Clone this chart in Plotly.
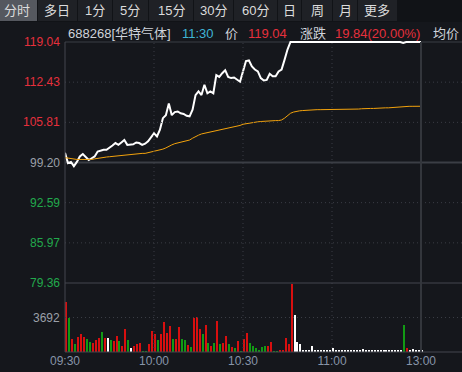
import plotly.graph_objects as go

W, H = 462, 372

# ---------------- data ----------------
minutes = list(range(121))  # 09:30 .. 11:30, one point per minute

price = [
    100.8, 99.1, 99.3, 98.6, 99.3, 100.2, 100.6, 100.1, 99.6, 99.9,
    100.2, 101.0, 101.2, 101.3, 101.3, 101.6, 102.0, 102.4, 102.1, 102.5,
    102.9, 102.1, 102.1, 102.2, 102.5, 102.4, 102.1, 102.3, 102.7, 103.3,
    104.0, 103.5, 104.6, 106.5, 107.0, 108.9, 107.0, 107.5, 107.6, 107.3,
    107.2, 106.9, 106.8, 107.9, 110.3, 110.9, 110.3, 112.0, 110.6, 110.9,
    110.6, 113.6, 113.3, 113.9, 114.4, 113.3, 113.1, 113.2, 112.8, 112.5,
    114.2, 115.9, 116.0, 115.0, 114.5, 114.2, 113.1, 112.7, 112.8, 113.8,
    113.4, 113.4, 114.2, 114.5, 116.1, 117.8, 119.04, 119.04, 119.04, 119.04,
    119.04, 119.04, 119.04, 119.04, 119.04, 119.04, 119.04, 119.04, 119.04, 119.04,
    119.04, 119.04, 119.04, 119.04, 119.04, 119.04, 119.04, 119.04, 119.04, 119.04,
    119.04, 119.04, 119.04, 119.04, 119.04, 119.04, 119.04, 119.04, 119.04, 119.04,
    119.04, 119.04, 119.04, 119.04, 118.9, 119.04, 119.04, 119.04, 119.04, 119.04,
    119.04,
]

avg_price = [
    100.0, 99.9, 99.8, 99.7, 99.7, 99.7, 99.7, 99.7, 99.6, 99.7,
    99.8, 99.9, 100.0, 100.0, 100.1, 100.15, 100.2, 100.3, 100.35, 100.4,
    100.5, 100.5, 100.55, 100.6, 100.6, 100.65, 100.7, 100.7, 100.8, 100.9,
    101.0, 101.1, 101.2, 101.4, 101.6, 101.9, 102.1, 102.3, 102.4, 102.5,
    102.6, 102.7, 102.9, 103.2, 103.5, 103.7, 103.9, 104.0, 104.1, 104.3,
    104.4, 104.5, 104.6, 104.7, 104.8, 104.9, 105.0, 105.1, 105.2, 105.3,
    105.5, 105.6, 105.7, 105.8, 105.85, 105.9, 105.95, 106.0, 106.0, 106.05,
    106.05, 106.1, 106.1, 106.2, 106.5, 106.9, 107.3, 107.5, 107.65, 107.7,
    107.75, 107.8, 107.85, 107.85, 107.85, 107.9, 107.9, 107.9, 107.9, 107.9,
    107.95, 107.95, 107.95, 107.95, 107.95, 108.0, 108.0, 108.0, 108.0, 108.0,
    108.05, 108.1, 108.1, 108.1, 108.1, 108.15, 108.15, 108.2, 108.2, 108.2,
    108.25, 108.25, 108.3, 108.3, 108.4, 108.45, 108.45, 108.45, 108.46, 108.46,
    108.46,
]

volume = [
    5316, 3600, 1426, 892, 1605, 1890, 1570, 1355, 1034, 927,
    1248, 1462, 2140, 1462, 1462, 1248, 1140, 1676, 1140, 606,
    2426, 1248, 392, 606, 820, 927, 107, 107, 820, 2212,
    1890, 1248, 1890, 3174, 1997, 2746, 1355, 1355, 2640, 1355,
    1248, 713, 499, 3600, 3710, 2426, 1890, 2853, 927, 606,
    927, 3280, 820, 927, 1676, 820, 499, 392, 1140, 107,
    1355, 1997, 927, 606, 392, 178, 499, 606, 606, 1034,
    70, 70, 178, 178, 1462, 820, 7240, 3960, 1105, 856,
    214, 214, 142, 642, 214, 214, 142, 142, 142, 142,
    428, 142, 214, 214, 142, 214, 142, 214, 142, 142,
    321, 142, 214, 142, 214, 142, 142, 142, 142, 142,
    142, 142, 142, 142, 2890, 428, 142, 321, 142, 142,
    142,
]

# r = up, g = down, w = unchanged
vol_dir = list(
    "rgrgrrrggr" "rrgrwgrrgr" "rgwrrrggrr" "rgrrrrgrrg"
    "grgrrrgrgr" "grgrrgrgrg" "rrggggggrr" "ggrrrrrwww"
    "wwwwwwwwww" "wwwwwwwwww" "wwwwwwwwww" "wwwwgrwwww" "w"
)

prev_close = 99.20
price_ticks = [119.04, 112.43, 105.81, 99.20, 92.59, 85.97, 79.36]
vol_tick = 3692
vol_max = 7384
time_ticks = [0, 30, 60, 90, 120]
time_labels = ["09:30", "10:00", "10:30", "11:00", "13:00"]
tabs = ["分时", "多日", "1分", "5分", "15分", "30分", "60分", "日", "周", "月", "更多"]
header_parts = ["688268[华特气体]", "11:30", "价", "119.04", "涨跌", "19.84(20.00%)", "均价"]

# ---------------- style ----------------
BG = "#15171c"
TAB_BG = "#1f2126"
TAB_SEL = "#55585f"
GRID = "#3a3d45"
SOLID = "#3b3e45"
RED = "#e5303c"
GREEN = "#22aa4c"
GRAY = "#9ba0a9"
XLAB = "#8794a8"
VOL_RED = "#d80f0f"
VOL_GREEN = "#129a14"
FONT = "Arial, 'Liberation Sans', 'Noto Sans CJK SC', sans-serif"

LEFT = 65      # px of plot left edge
TOP_EXT = 40   # px of price axis top (range slightly extended)
TOP = 42       # px of 119.04
MID = 283      # px separator price/volume
BOT = 352      # px bottom of volume
RIGHT_T = 120  # minute at x=421

def fx(px):
    return px / W

def fy(py):
    return 1 - py / H

px_per_min = (421 - LEFT) / RIGHT_T
x_end = (W - LEFT) / px_per_min
p_per_px = (price_ticks[0] - price_ticks[-1]) / (MID - TOP)
y_top = price_ticks[0] + (TOP - TOP_EXT) * p_per_px

colmap = {"r": VOL_RED, "g": VOL_GREEN, "w": "#ffffff"}
bar_colors = [colmap[c] for c in vol_dir]

fig = go.Figure()
fig.add_trace(go.Bar(
    x=minutes, y=volume, yaxis="y2", xaxis="x",
    marker=dict(color=bar_colors, line=dict(width=0)),
    width=0.42, offset=0.2, hoverinfo="skip", showlegend=False,
))
fig.add_trace(go.Scatter(
    x=minutes, y=price, mode="lines", line=dict(color="#ffffff", width=2),
    hoverinfo="skip", showlegend=False,
))
fig.add_trace(go.Scatter(
    x=minutes, y=avg_price, mode="lines", line=dict(color="#f2a20c", width=1),
    hoverinfo="skip", showlegend=False,
))

shapes = []
# tab bar
shapes.append(dict(type="rect", xref="paper", yref="paper", x0=0, x1=1,
                   y0=fy(22), y1=1, fillcolor="#111317", line=dict(width=0), layer="below"))
tab_edges = [(0, 37), (38, 77), (78, 112), (113, 148), (149, 193), (194, 233),
             (234, 277), (278, 301), (302, 332), (333, 357), (358, 397)]
for i, (a, b) in enumerate(tab_edges):
    shapes.append(dict(type="rect", xref="paper", yref="paper", x0=fx(a), x1=fx(b),
                       y0=fy(21), y1=fy(0), fillcolor=TAB_SEL if i == 0 else TAB_BG,
                       line=dict(width=0), layer="below"))

# dotted price grid
for v in price_ticks[1:-1]:
    if v == prev_close:
        continue
    shapes.append(dict(type="line", xref="paper", yref="y", x0=fx(LEFT), x1=1, y0=v, y1=v,
                       line=dict(color=GRID, width=1, dash="1px,3px")))
shapes.append(dict(type="line", xref="paper", yref="y2", x0=fx(LEFT), x1=1, y0=vol_tick, y1=vol_tick,
                   line=dict(color=GRID, width=1, dash="1px,3px")))
for t in time_ticks[1:-1]:
    shapes.append(dict(type="line", xref="x", yref="paper", x0=t, x1=t, y0=fy(BOT), y1=fy(TOP),
                       line=dict(color=GRID, width=1, dash="1px,3px")))
# solid lines
shapes.append(dict(type="line", xref="paper", yref="paper", x0=fx(LEFT), x1=1, y0=fy(TOP), y1=fy(TOP),
                   line=dict(color=SOLID, width=1), layer="below"))
shapes.append(dict(type="line", xref="paper", yref="y", x0=fx(LEFT), x1=1, y0=prev_close, y1=prev_close,
                   line=dict(color=SOLID, width=2), layer="below"))
shapes.append(dict(type="line", xref="paper", yref="paper", x0=fx(LEFT), x1=1, y0=fy(MID), y1=fy(MID),
                   line=dict(color="#44474e", width=1)))
shapes.append(dict(type="line", xref="paper", yref="paper", x0=fx(LEFT), x1=1, y0=fy(BOT), y1=fy(BOT),
                   line=dict(color="#44474e", width=1)))
shapes.append(dict(type="line", xref="paper", yref="paper", x0=fx(LEFT), x1=fx(LEFT), y0=fy(BOT), y1=fy(TOP),
                   line=dict(color="#44474e", width=1)))
shapes.append(dict(type="line", xref="x", yref="paper", x0=RIGHT_T, x1=RIGHT_T, y0=fy(BOT), y1=fy(TOP),
                   line=dict(color="#33363c", width=2)))

ann = []
tab_centers = [17, 57, 95, 130, 171, 213, 255, 289, 317, 345, 377]
for name, cx in zip(tabs, tab_centers):
    ann.append(dict(text=name, x=fx(cx), y=fy(11), xref="paper", yref="paper",
                    xanchor="center", yanchor="middle", showarrow=False,
                    font=dict(family=FONT, size=13, color="#dcdcdc")))

hx = [66, 180, 223, 246, 298, 333, 431]
hcol = ["#cfd3da", "#3fb4d4", "#cfd3da", RED, "#cfd3da", RED, "#cfd3da"]
for txt, x0, c in zip(header_parts, hx, hcol):
    ann.append(dict(text=txt, x=fx(x0), y=fy(33), xref="paper", yref="paper",
                    xanchor="left", yanchor="middle", showarrow=False,
                    font=dict(family=FONT, size=13, color=c)))

for v in price_ticks:
    c = RED if v > prev_close else (GRAY if v == prev_close else GREEN)
    ann.append(dict(text=f"{v:.2f}", x=fx(62), y=v, xref="paper", yref="y",
                    xanchor="right", yanchor="middle", showarrow=False,
                    font=dict(family=FONT, size=12, color=c)))
ann.append(dict(text=str(vol_tick), x=fx(62), y=vol_tick, xref="paper", yref="y2",
                xanchor="right", yanchor="middle", showarrow=False,
                font=dict(family=FONT, size=12, color=GRAY)))

fig.update_layout(
    width=W, height=H, margin=dict(l=0, r=0, t=0, b=0),
    paper_bgcolor=BG, plot_bgcolor=BG,
    shapes=shapes, annotations=ann, bargap=0,
    xaxis=dict(domain=[fx(LEFT), 1], range=[0, x_end], anchor="y2",
               tickvals=time_ticks, ticktext=time_labels, ticks="",
               tickfont=dict(family=FONT, size=12, color=XLAB),
               showgrid=False, zeroline=False, showline=False, automargin=False,
               fixedrange=True),
    yaxis=dict(domain=[fy(MID), fy(TOP_EXT)], range=[price_ticks[-1], y_top], anchor="x",
               showticklabels=False, showgrid=False, zeroline=False, showline=False,
               automargin=False),
    yaxis2=dict(domain=[fy(BOT), fy(MID)], range=[0, vol_max], anchor="x",
                showticklabels=False, showgrid=False, zeroline=False, showline=False,
                automargin=False),
)

fig.write_html(
    "out.html",
    config={"displayModeBar": False},
    post_script="document.body.style.margin='0';document.body.style.background='" + BG + "';",
)
